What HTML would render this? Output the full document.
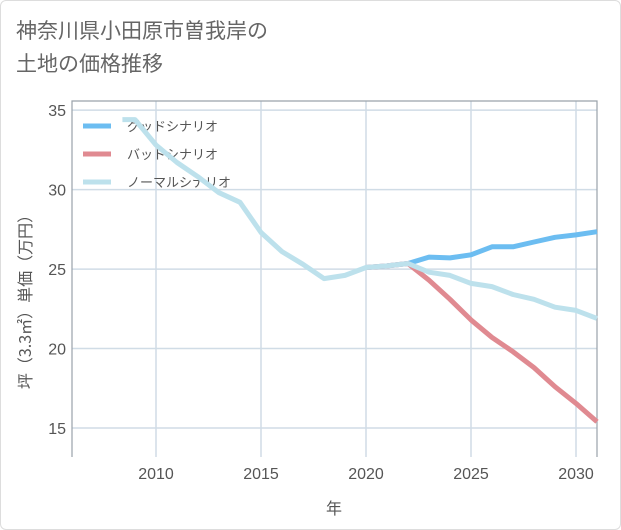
<!DOCTYPE html>
<html><head><meta charset="utf-8"><style>
body{margin:0;background:#fff;font-family:"Liberation Sans","Noto Sans CJK JP",sans-serif;}
#card{position:absolute;left:0;top:0;width:619px;height:528px;border:1px solid #ddd;border-radius:6px;}
#title{position:absolute;left:16px;top:14px;font-size:21px;line-height:33px;color:#666;font-family:"Noto Sans CJK JP",sans-serif;}
svg{position:absolute;left:0;top:0;}
</style></head><body>
<div id="card"></div>
<div id="title">神奈川県小田原市曽我岸の<br>土地の価格推移</div>
<svg id="chart" width="621" height="530"></svg>
<script>
const xTicks=[2010,2015,2020,2025,2030];
const yTicks=[15,20,25,30,35];
const normalYears=[2008.4,2009,2010,2011,2012,2013,2014,2015,2016,2017,2018,2019,2020,2021,2022,2023,2024,2025,2026,2027,2028,2029,2030,2031];
const normalValues=[34.4,34.4,32.8,31.7,30.8,29.8,29.2,27.3,26.1,25.3,24.4,24.6,25.1,25.2,25.35,24.8,24.6,24.1,23.9,23.4,23.1,22.6,22.4,21.9];
const goodYears=[2020,2021,2022,2023,2024,2025,2026,2027,2028,2029,2030,2031];
const goodValues=[25.1,25.2,25.35,25.75,25.7,25.9,26.4,26.4,26.7,27.0,27.15,27.35];
const badYears=[2020,2021,2022,2023,2024,2025,2026,2027,2028,2029,2030,2031];
const badValues=[25.1,25.2,25.35,24.3,23.1,21.8,20.7,19.8,18.8,17.6,16.55,15.4];
const L=72,R=597,T=101,B=457;
const xMin=2006,xMax=2031,yMin=13.18,yMax=35.57;
const sx=v=>L+(v-xMin)/(xMax-xMin)*(R-L);
const sy=v=>B-(v-yMin)/(yMax-yMin)*(B-T);
const svg=document.getElementById('chart');
const NS='http://www.w3.org/2000/svg';
function mk(tag,attrs){const e=document.createElementNS(NS,tag);for(const k in attrs)e.setAttribute(k,attrs[k]);svg.appendChild(e);return e;}
xTicks.forEach(t=>{
 const g=mk('line',{x1:sx(t),x2:sx(t),y1:T,y2:B,stroke:'#d0dce6','stroke-width':1.5});
 
 
 const l=mk('text',{x:sx(t),y:479,'text-anchor':'middle','font-size':16,fill:'#555'});
 l.textContent=t;
 
 
});
yTicks.forEach(t=>{
 const g=mk('line',{x1:L,x2:R,y1:sy(t),y2:sy(t),stroke:'#d0dce6','stroke-width':1.5});
 
 
 const l=mk('text',{x:66,y:sy(t)+6,'text-anchor':'end','font-size':16,fill:'#555'});
 l.textContent=t;
 
 
});
const frame=mk('path',{d:`M${L},${B}V${T}H${R}V${B}`,fill:'none',stroke:'#9aa2aa',"stroke-width":1.2});


const legend=[['グッドシナリオ','#6cbdf1',126],['バッドシナリオ','#e08a91',154],['ノーマルシナリオ','#bde1ec',182]];
legend.forEach(([t,c,y])=>{
 const s=mk('line',{x1:83,x2:111,y1:y,y2:y,stroke:c,'stroke-width':5});
 
 
 const l=mk('text',{x:127,y:y+5,'font-size':13,fill:'#555','font-family':'Noto Sans CJK JP, sans-serif'});
 l.textContent=t;
 
 
});
function series(xs,ys,color,name){
 const d=xs.map((x,i)=>(i?'L':'M')+sx(x).toFixed(1)+','+sy(ys[i]).toFixed(1)).join('');
 const p=mk('path',{d:d,fill:'none',stroke:color,'stroke-width':5,'stroke-linejoin':'round'});
 
 
}
series(goodYears,goodValues,'#6cbdf1','good-scenario-line');
series(badYears,badValues,'#e08a91','bad-scenario-line');
series(normalYears,normalValues,'#bde1ec','normal-scenario-line');
const xt=mk('text',{x:334,y:514,'text-anchor':'middle','font-size':16,fill:'#555','font-family':'Noto Sans CJK JP, sans-serif'});
xt.textContent='年';


const yt=mk('text',{x:0,y:0,'text-anchor':'middle','font-size':16,fill:'#555','font-family':'Noto Sans CJK JP, sans-serif',transform:'translate(31,298) rotate(-90)'});
yt.textContent='坪（3.3㎡）単価（万円）';


</script>
</body></html>
